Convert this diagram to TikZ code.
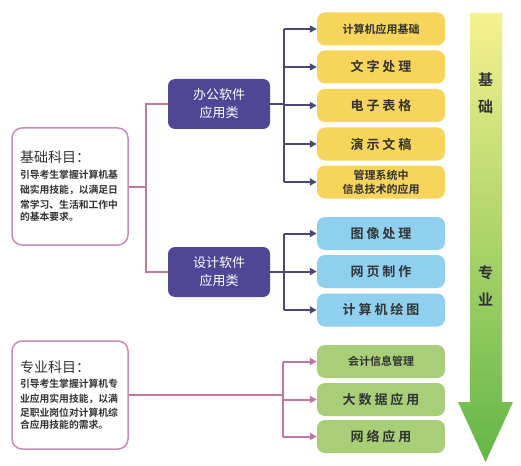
\documentclass[tikz,border=0pt]{standalone}
\usepackage{fontspec}
\setmainfont{Noto Sans CJK SC}[BoldFont={Noto Sans CJK SC Bold}]
\usepackage{tikz}
\usetikzlibrary{arrows.meta,positioning,calc}
\definecolor{leafyellow}{HTML}{F6D55A}
\definecolor{leafblue}{HTML}{8FD0EE}
\definecolor{leafgreen}{HTML}{A8CE78}
\definecolor{catpurple}{HTML}{504696}
\definecolor{linepurple}{HTML}{4B4878}
\definecolor{linepink}{HTML}{C078A0}
\definecolor{subjpink}{HTML}{C88CB4}
\definecolor{textdark}{HTML}{333333}
\definecolor{arrtop}{HTML}{F6F18E}
\definecolor{arrmid}{HTML}{C8DE66}
\definecolor{arrbot}{HTML}{62B746}

\begin{document}
\begin{tikzpicture}[x=1pt,y=-1pt,
  subj/.style={draw=subjpink, line width=1.5pt, fill=white, rounded corners=10pt,
    align=left, text width=100pt, inner xsep=8pt, inner ysep=0pt, text=textdark},
  cat/.style={fill=catpurple, rounded corners=7pt, text=white, minimum width=102pt,
    minimum height=50pt, align=center, font=\fontsize{13}{18}\selectfont},
  leaf/.style={rounded corners=8pt, minimum width=128pt, minimum height=33pt, inner sep=0pt,
    align=center, text=textdark, font=\bfseries\fontsize{13}{15}\selectfont},
  small/.style={font=\bfseries\fontsize{11}{14}\selectfont},
  pk/.style={draw=linepink, line width=2pt},
  pu/.style={draw=linepurple, line width=2pt},
  tip/.style={-{Triangle[length=7pt,width=7pt]}},
  vtext/.style={align=center, text=textdark, font=\bfseries\fontsize{15}{27}\selectfont}]
\useasboundingbox (0,0) rectangle (521,465);

% left boxes
\node[subj, minimum height=117pt] (jc) at (70,186.5) {{\fontsize{14}{16}\selectfont 基础科目：}\\[1pt]
  \bfseries\fontsize{9.8}{15}\selectfont 引导考生掌握计算机基\\础实用技能，以满足日\\常学习、生活和工作中\\的基本要求。};
\node[subj, minimum height=108pt] (zy) at (70,395) {{\fontsize{14}{16}\selectfont 专业科目：}\\[1pt]
  \bfseries\fontsize{9.8}{14.5}\selectfont 引导考生掌握计算机专\\业应用实用技能，以满\\足职业岗位对计算机综\\合应用技能的需求。};

\node[cat] (bg) at (219,104) {办公软件\\应用类};
\node[cat] (sj) at (219,272) {设计软件\\应用类};

% leaves
\node[leaf, fill=leafyellow, small] (y1) at (381,29) {计算机应用基础};
\node[leaf, fill=leafyellow] (y2) at (381,67) {文 字 处 理};
\node[leaf, fill=leafyellow] (y3) at (381,105.5) {电 子 表 格};
\node[leaf, fill=leafyellow] (y4) at (381,144) {演 示 文 稿};
\node[leaf, fill=leafyellow, small] (y5) at (381,182) {管理系统中\\信息技术的应用};
\node[leaf, fill=leafblue] (b1) at (381,233.5) {图 像 处 理};
\node[leaf, fill=leafblue] (b2) at (381,271.5) {网 页 制 作};
\node[leaf, fill=leafblue] (b3) at (381,310) {计 算 机 绘 图};
\node[leaf, fill=leafgreen, small] (g1) at (381,361.5) {会计信息管理};
\node[leaf, fill=leafgreen] (g2) at (381,399.5) {大 数 据 应 用};
\node[leaf, fill=leafgreen] (g3) at (381,436.5) {网 络 应 用};

% connectors
\coordinate (jx) at (146,0);
\coordinate (bx) at (284,0);
\coordinate (zx) at (283,0);
\draw[pk] (jc.east) -- (jc.east -| jx);
\draw[pk] (bg.west) -- (bg.west -| jx) -- (sj.west -| jx) -- (sj.west);
\draw[pu] (bg.east) -- (bg.east -| bx);
\draw[pu] (y1.west -| bx) -- (y5.west -| bx);
\draw[pu,tip] (y1.west -| bx) -- (y1.west);
\draw[pu,tip] (y2.west -| bx) -- (y2.west);
\draw[pu,tip] (y3.west -| bx) -- (y3.west);
\draw[pu,tip] (y4.west -| bx) -- (y4.west);
\draw[pu,tip] (y5.west -| bx) -- (y5.west);
\draw[pu] (sj.east) -- (sj.east -| bx);
\draw[pu] (b1.west -| bx) -- (b3.west -| bx);
\draw[pu,tip] (b1.west -| bx) -- (b1.west);
\draw[pu,tip] (b2.west -| bx) -- (b2.west);
\draw[pu,tip] (b3.west -| bx) -- (b3.west);
\draw[pk] (zy.east) -- (zy.east -| zx);
\draw[pk] (g1.west -| zx) -- (g3.west -| zx);
\draw[pk,tip] (g1.west -| zx) -- (g1.west);
\draw[pk,tip] (g2.west -| zx) -- (g2.west);
\draw[pk,tip] (g3.west -| zx) -- (g3.west);

% big arrow
\shade[top color=arrtop, middle color=arrmid, bottom color=arrbot]
  (470,13) -- (502,13) -- (502,402) -- (513,402) -- (485.5,462) -- (458,402) -- (470,402) -- cycle;
\node[vtext] (jw) at (485.5,93) {基\\础};
\node[vtext] (zw) at (485.5,286) {专\\业};
\end{tikzpicture}
\end{document}
